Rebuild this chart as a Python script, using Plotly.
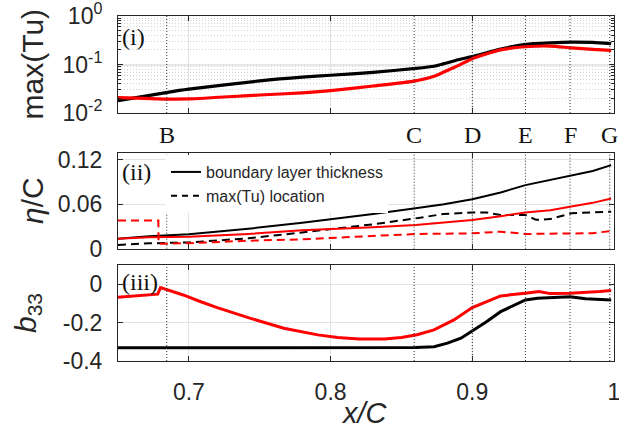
import plotly.graph_objects as go

# ---------------- data ----------------
# panel (i): max(Tu)
x_tu = [0.65, 0.685, 0.70, 0.75, 0.78, 0.80, 0.83, 0.86, 0.873, 0.88, 0.89, 0.90, 0.92, 0.9375, 0.955, 0.97, 0.985, 0.998]
tu_black = [0.018, 0.0267, 0.031, 0.046, 0.055, 0.060, 0.069, 0.083, 0.092, 0.104, 0.125, 0.145, 0.208, 0.26, 0.28, 0.29, 0.285, 0.27]
tu_red = [0.0208, 0.0194, 0.0195, 0.0235, 0.026, 0.029, 0.036, 0.046, 0.057, 0.070, 0.095, 0.132, 0.200, 0.232, 0.24, 0.22, 0.205, 0.196]

# panel (ii): eta/C
x_bl = [0.65, 0.672, 0.70, 0.742, 0.78, 0.807, 0.83, 0.86, 0.88, 0.90, 0.92, 0.9375, 0.955, 0.97, 0.985, 0.998]
bl_black = [0.0135, 0.017, 0.0195, 0.027, 0.035, 0.041, 0.047, 0.0546, 0.060, 0.0668, 0.076, 0.086, 0.093, 0.099, 0.105, 0.113]
bl_red = [0.0135, 0.0154, 0.016, 0.020, 0.025, 0.027, 0.029, 0.032, 0.035, 0.0388, 0.044, 0.049, 0.052, 0.057, 0.062, 0.068]

x_loc_black = [0.65, 0.672, 0.70, 0.742, 0.78, 0.807, 0.83, 0.86, 0.88, 0.90, 0.91, 0.92, 0.9375, 0.945, 0.955, 0.97, 0.985, 0.998]
loc_black = [0.005, 0.0073, 0.0085, 0.014, 0.022, 0.028, 0.033, 0.041, 0.047, 0.049, 0.049, 0.0455, 0.0455, 0.039, 0.040, 0.048, 0.049, 0.050]

x_loc_red = [0.65, 0.6785, 0.6786, 0.70, 0.742, 0.78, 0.81, 0.86, 0.90, 0.92, 0.9375, 0.97, 0.985, 0.998]
loc_red = [0.038, 0.038, 0.0065, 0.0075, 0.0108, 0.0127, 0.0154, 0.0199, 0.0208, 0.023, 0.0199, 0.020, 0.021, 0.024]

# panel (iii): b33
x_b_black = [0.65, 0.70, 0.75, 0.80, 0.86, 0.873, 0.8825, 0.892, 0.90, 0.91, 0.92, 0.9295, 0.9375, 0.946, 0.969, 0.98, 0.998]
b_black = [-0.331, -0.331, -0.331, -0.331, -0.330, -0.326, -0.307, -0.281, -0.243, -0.195, -0.143, -0.108, -0.082, -0.073, -0.065, -0.076, -0.082]

x_b_red = [0.65, 0.678, 0.680, 0.696, 0.708, 0.720, 0.743, 0.767, 0.791, 0.805, 0.82, 0.838, 0.85, 0.861, 0.873, 0.887, 0.90, 0.92, 0.9375, 0.947, 0.955, 0.969, 0.99, 0.998]
b_red = [-0.068, -0.052, -0.018, -0.056, -0.09, -0.122, -0.177, -0.229, -0.264, -0.278, -0.285, -0.286, -0.278, -0.263, -0.238, -0.186, -0.122, -0.061, -0.047, -0.038, -0.049, -0.047, -0.038, -0.033]

# station markers
st_x = [0.6844, 0.859, 0.90, 0.9375, 0.969, 0.997]
st_lab = ["B", "C", "D", "E", "F", "G"]

x_ticks = [0.7, 0.8, 0.9, 1.0]
x_ticktext = ["0.7", "0.8", "0.9", "1"]

# ---------------- figure ----------------
RED = "#ff0000"
BLK = "#000000"
AX = "#262626"
GRID = "#e3e3e3"
SANS = "Liberation Sans, Arial, sans-serif"
SERIF = "Liberation Serif, Times New Roman, serif"

fig = go.Figure()

# panel (i)
fig.add_trace(go.Scatter(x=x_tu, y=tu_black, mode="lines", line=dict(color=BLK, width=3.2, shape="spline", smoothing=0.6),
                         xaxis="x", yaxis="y", showlegend=False))
fig.add_trace(go.Scatter(x=x_tu, y=tu_red, mode="lines", line=dict(color=RED, width=3.2, shape="spline", smoothing=0.6),
                         xaxis="x", yaxis="y", showlegend=False))

# panel (ii)
fig.add_trace(go.Scatter(x=x_bl, y=bl_black, mode="lines", line=dict(color=BLK, width=2),
                         xaxis="x2", yaxis="y2", showlegend=False))
fig.add_trace(go.Scatter(x=x_loc_black, y=loc_black, mode="lines", line=dict(color=BLK, width=2, dash="8px,5px"),
                         xaxis="x2", yaxis="y2", showlegend=False))
fig.add_trace(go.Scatter(x=x_bl, y=bl_red, mode="lines", line=dict(color=RED, width=2),
                         xaxis="x2", yaxis="y2", showlegend=False))
fig.add_trace(go.Scatter(x=x_loc_red, y=loc_red, mode="lines", line=dict(color=RED, width=2, dash="8px,5px"),
                         xaxis="x2", yaxis="y2", showlegend=False))
# legend entries
fig.add_trace(go.Scatter(x=[None], y=[None], mode="lines", line=dict(color=BLK, width=2),
                         name="boundary layer thickness", xaxis="x2", yaxis="y2"))
fig.add_trace(go.Scatter(x=[None], y=[None], mode="lines", line=dict(color=BLK, width=2, dash="6px,5px"),
                         name="max(Tu) location", xaxis="x2", yaxis="y2"))

# panel (iii)
fig.add_trace(go.Scatter(x=x_b_red, y=b_red, mode="lines", line=dict(color=RED, width=3),
                         xaxis="x3", yaxis="y3", showlegend=False))
fig.add_trace(go.Scatter(x=x_b_black, y=b_black, mode="lines", line=dict(color=BLK, width=3),
                         xaxis="x3", yaxis="y3", showlegend=False))

W, H = 619, 437
L, R, T, B = 118, 5, 16, 76
PH = H - T - B


def dom(top_px, bot_px):
    return [1 - (bot_px - T) / PH, 1 - (top_px - T) / PH]


common_x = dict(range=[0.65, 1.0], tickvals=x_ticks, ticktext=x_ticktext, showgrid=True,
                gridcolor=GRID, gridwidth=1, ticks="inside", ticklen=5, tickcolor=AX,
                showline=True, linecolor=AX, linewidth=1, mirror="ticks", zeroline=False,
                tickfont=dict(family=SANS, size=23, color=AX), ticklabelstandoff=10,
                ticklabeloverflow="allow", automargin=False)
common_y = dict(showgrid=True, gridcolor=GRID, gridwidth=1, ticks="inside", ticklen=5, tickcolor=AX,
                showline=True, linecolor=AX, linewidth=1, mirror="ticks", zeroline=False,
                tickfont=dict(family=SANS, size=23, color=AX), ticklabelstandoff=10,
                ticklabeloverflow="allow", automargin=False)

fig.update_layout(
    width=W, height=H, margin=dict(l=L, r=R, t=T, b=B, autoexpand=False),
    paper_bgcolor="white", plot_bgcolor="white",
    xaxis=dict(common_x, anchor="y", domain=[0, 1], showticklabels=False),
    xaxis2=dict(common_x, anchor="y2", domain=[0, 1], showticklabels=False, matches="x"),
    xaxis3=dict(common_x, anchor="y3", domain=[0, 1], showticklabels=True, matches="x"),
    yaxis=dict(common_y, anchor="x", domain=dom(16, 113), type="log", range=[-2.0, 0.0],
               tickvals=[0.01, 0.1, 1.0], ticktext=["10<sup>-2</sup>", "10<sup>-1</sup>", "10<sup>0</sup>"],
               gridwidth=2, gridcolor="#e6e6e6",
               minor=dict(showgrid=True, gridcolor="#d4d4d4", griddash="1px,2px", gridwidth=1,
                          ticks="inside", ticklen=3, tickcolor=AX,
                          tickvals=[0.02, 0.03, 0.04, 0.05, 0.06, 0.07, 0.08, 0.09,
                                    0.2, 0.3, 0.4, 0.5, 0.6, 0.7, 0.8, 0.9])),
    yaxis2=dict(common_y, anchor="x2", domain=dom(153.3, 248.7), range=[0, 0.129],
                tickvals=[0, 0.06, 0.12], ticktext=["0", "0.06", "0.12"]),
    yaxis3=dict(common_y, anchor="x3", domain=dom(265, 361), range=[-0.4, 0.1],
                tickvals=[-0.4, -0.2, 0], ticktext=["-0.4", "-0.2", "0"]),
    legend=dict(x=(166 - L) / 496, y=dom(153.3, 248.7)[1] - 0.005, xanchor="left", yanchor="top",
                bgcolor="white", borderwidth=0, font=dict(family=SANS, size=16, color=AX),
                tracegroupgap=0, itemwidth=30),
    showlegend=True,
)

shapes = []
for xr, yr in [("x", "y domain"), ("x2", "y2 domain"), ("x3", "y3 domain")]:
    for sx in st_x:
        shapes.append(dict(type="line", xref=xr, yref=yr, x0=sx, x1=sx, y0=0, y1=1,
                           line=dict(color="#333333", width=1, dash="1px,2px"), layer="above"))
fig.update_layout(shapes=shapes)

ann = []
# station letters under panel (i)
for sx, sl in zip(st_x, st_lab):
    ann.append(dict(x=sx, y=-0.227, xref="x", yref="y domain", text=sl, showarrow=False,
                    xanchor="center", yanchor="middle", font=dict(family=SERIF, size=24, color="#111111")))
# panel labels
for txt, yr, ypos in [("(i)", "y domain", 1 - (37 - 16) / 97), ("(ii)", "y2 domain", 1 - (172 - 153.3) / 95.4),
                      ("(iii)", "y3 domain", 1 - (282 - 265) / 96)]:
    ann.append(dict(x=(120 - L) / 496, y=ypos, xref="paper", yref=yr, text=txt, showarrow=False,
                    xanchor="left", yanchor="middle", font=dict(family=SERIF, size=24, color="#111111")))
# axis titles
ann.append(dict(x=(32 - L) / 496, y=0.5, xref="paper", yref="y domain", text="max(Tu)", textangle=-90,
                showarrow=False, xanchor="center", yanchor="middle", font=dict(family=SANS, size=30, color=AX)))
ann.append(dict(x=(32 - L) / 496, y=0.5, xref="paper", yref="y2 domain", text="<i>η</i>/C", textangle=-90,
                showarrow=False, xanchor="center", yanchor="middle", font=dict(family=SANS, size=30, color=AX)))
ann.append(dict(x=(27 - L) / 496, y=0.5, xref="paper", yref="y3 domain", text="<i>b</i><sub>33</sub>",
                textangle=-90, showarrow=False, xanchor="center", yanchor="middle",
                font=dict(family=SANS, size=30, color=AX)))
ann.append(dict(x=(364 - L) / 496, y=-(413 - 361) / 96, xref="paper", yref="y3 domain", text="<i>x/C</i>",
                showarrow=False, xanchor="center", yanchor="middle", font=dict(family=SANS, size=29, color=AX)))
fig.update_layout(annotations=ann)

fig.write_html("out.html")
